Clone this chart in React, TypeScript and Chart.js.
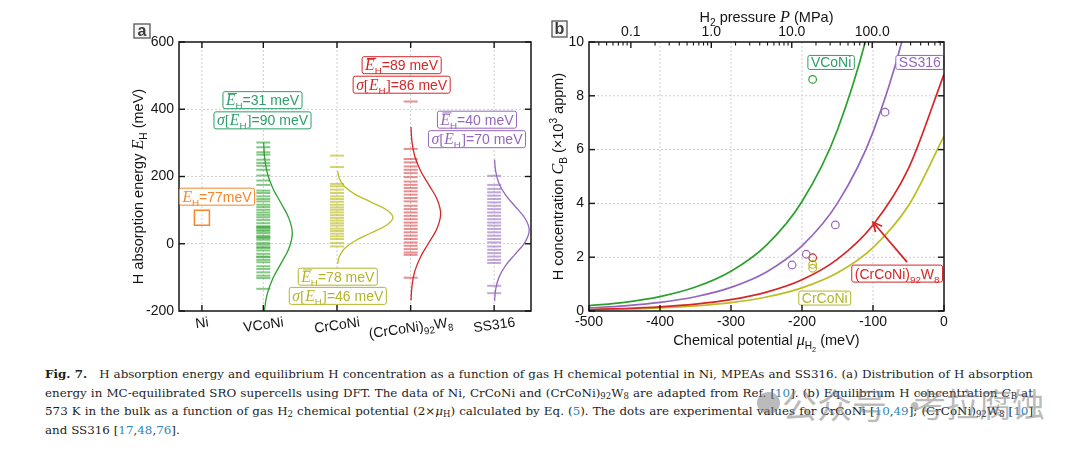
import React, { useEffect, useRef } from 'react';
import { Chart, registerables } from 'chart.js';

Chart.register(...registerables);

// ---------------- Panel (a): H absorption energy ----------------
const categories = ['Ni', 'VCoNi', 'CrCoNi', '(CrCoNi)92W8', 'SS316'];
const categoryX = [0.28, 1.03, 1.93, 2.83, 3.85];
const yTicksA = [-200, 0, 200, 400, 600];
const yGridA = [0, 200, 400];
const niEnergy = [77];
const vconiEnergies = [301, 287, 272, 265, 250, 240, 232, 220, 203, 188, 175, 158, 151, 141, 133, 126, 116, 109, 101, 93, 86, 79, 71, 61, 52, 50, 47, 42, 38, 32, 24, 20, 17, 12, 2, -3, -10, -13, -20, -30, -38, -40, -48, -55, -67, -75, -85, -95, -102, -134];
const crconiEnergies = [262, 228, 178, 171, 161, 151, 141, 133, 125, 116, 108, 101, 93, 85, 77, 69, 61, 54, 45, 38, 30, 22, 14, 2, -8];
const w8Energies = [423, 282, 252, 242, 230, 220, 210, 198, 185, 175, 166, 156, 146, 136, 126, 113, 103, 93, 83, 73, 63, 54, 44, 34, 24, 14, 4, -6, -16, -26, -33, -101];
const ss316Energies = [202, 175, 163, 153, 143, 133, 123, 113, 103, 93, 83, 73, 63, 54, 44, 34, 24, 14, 4, -8, -18, -28, -38, -48, -57, -125, -147];
const meanEnergy = [31, 78, 89, 40];
const sigmaEnergy = [90, 46, 86, 70];
// distribution curves: energy (meV) and curve width (x-axis units)
const vconiCurveE = [-239, -194, -149, -104, -59, -14, 31, 76, 121, 166, 211, 256, 301];
const vconiCurveD = [0.004, 0.016, 0.048, 0.115, 0.215, 0.312, 0.354, 0.312, 0.215, 0.115, 0.048, 0.016, 0.004];
const crconiCurveE = [-60, -37, -14, 9, 32, 55, 78, 101, 124, 147, 170, 193, 216];
const crconiCurveD = [0.008, 0.03, 0.092, 0.222, 0.415, 0.603, 0.684, 0.603, 0.415, 0.222, 0.092, 0.03, 0.008];
const w8CurveE = [-169, -126, -83, -40, 3, 46, 89, 132, 175, 218, 261, 304, 347];
const w8CurveD = [0.004, 0.016, 0.049, 0.119, 0.222, 0.323, 0.366, 0.323, 0.222, 0.119, 0.049, 0.016, 0.004];
const ss316CurveE = [-170, -135, -100, -65, -30, 5, 40, 75, 110, 145, 180, 215, 250];
const ss316CurveD = [0.005, 0.019, 0.058, 0.139, 0.26, 0.378, 0.428, 0.378, 0.26, 0.139, 0.058, 0.019, 0.005];

// ---------------- Panel (b): H concentration ----------------
const muGrid = [-500, -450, -400, -350, -300, -250, -200, -150, -100, -50, 0];
const cVCoNi = [0.195, 0.323, 0.536, 0.89, 1.48, 2.45, 4.07, 6.74, 11.19, 18.56, 30.8];
const cSS316 = [0.116, 0.192, 0.318, 0.529, 0.877, 1.45, 2.42, 4.01, 6.65, 11.03, 18.3];
const cW8 = [0.056, 0.092, 0.153, 0.254, 0.42, 0.7, 1.16, 1.93, 3.2, 5.3, 8.8];
const cCrCoNi = [0.041, 0.068, 0.113, 0.188, 0.31, 0.52, 0.86, 1.42, 2.36, 3.92, 6.5];
const vconiExpMu = [-185];
const vconiExpC = [8.61];
const ss316ExpMu = [-214, -194, -153, -83];
const ss316ExpC = [1.71, 2.11, 3.2, 7.39];
const w8ExpMu = [-185];
const w8ExpC = [1.98];
const crconiExpMu = [-185, -185];
const crconiExpC = [1.73, 1.59];
const xTicksB = [-500, -400, -300, -200, -100, 0];
const xGridB = [-400, -300, -200, -100];
const yTicksB = [0, 2, 4, 6, 8, 10];
const yGridB = [2, 4, 6, 8];
const pressureTicks = [0.1, 1, 10, 100];
const pressureLabels = ['0.1', '1.0', '10.0', '100.0'];

// ---------------- styles ----------------
const C_NI = '#f5862a';
const C_V = '#2ca02c';
const C_V_LABEL = '#2e9e6a';
const C_CR = '#bcbd22';
const C_CR_LABEL = '#b3b52a';
const C_W = '#d62728';
const C_SS = '#9467bd';
const SANS = '"Liberation Sans", Arial, sans-serif';
const SERIF = '"Liberation Serif", "Times New Roman", serif';
const CAPTION_SERIF = '"DejaVu Serif", "Liberation Serif", serif';
const INK = '#151515';

type Run = { t: string; s?: 'i' | 'r'; sub?: number; sup?: boolean; over?: boolean };

function runFont(r: Run, size: number) {
  let sz = size;
  if (r.sub === 1 || r.sup) sz = size * 0.7;
  if (r.sub === 2) sz = size * 0.5;
  if (r.s === 'i') return `italic ${sz * 1.12}px ${SERIF}`;
  if (r.s === 'r') return `${sz * 1.1}px ${SERIF}`;
  return `${sz}px ${SANS}`;
}
function runsWidth(ctx: CanvasRenderingContext2D, runs: Run[], size: number) {
  let w = 0;
  for (const r of runs) {
    ctx.font = runFont(r, size);
    w += ctx.measureText(r.t).width;
  }
  return w;
}
function drawRuns(ctx: CanvasRenderingContext2D, runs: Run[], x: number, cy: number, size: number, color: string) {
  const base = cy + size * 0.36;
  let cx = x;
  ctx.save();
  ctx.fillStyle = color;
  ctx.strokeStyle = color;
  ctx.textBaseline = 'alphabetic';
  ctx.textAlign = 'left';
  for (const r of runs) {
    ctx.font = runFont(r, size);
    let b = base;
    if (r.sub === 1) b += size * 0.28;
    if (r.sub === 2) b += size * 0.45;
    if (r.sup) b -= size * 0.42;
    ctx.fillText(r.t, cx, b);
    const w = ctx.measureText(r.t).width;
    if (r.over) {
      ctx.lineWidth = 1;
      ctx.beginPath();
      ctx.moveTo(cx + 2, b - size * 0.84);
      ctx.lineTo(cx + w + 1.5, b - size * 0.84);
      ctx.stroke();
    }
    cx += w;
  }
  ctx.restore();
  return cx - x;
}
function drawLabelBox(ctx: CanvasRenderingContext2D, runs: Run[], cx: number, cy: number, size: number, color: string, h: number) {
  const w = runsWidth(ctx, runs, size);
  const padX = 3;
  ctx.save();
  ctx.beginPath();
  if ((ctx as any).roundRect) (ctx as any).roundRect(cx - w / 2 - padX, cy - h / 2, w + 2 * padX, h, 2);
  else ctx.rect(cx - w / 2 - padX, cy - h / 2, w + 2 * padX, h);
  ctx.fillStyle = '#fff';
  ctx.fill();
  ctx.lineWidth = 1;
  ctx.strokeStyle = color;
  ctx.stroke();
  ctx.restore();
  drawRuns(ctx, runs, cx - w / 2, cy, size, color);
}
function dotted(ctx: CanvasRenderingContext2D, x1: number, y1: number, x2: number, y2: number) {
  ctx.save();
  ctx.strokeStyle = '#c4c4c4';
  ctx.lineWidth = 0.8;
  ctx.setLineDash([2, 2]);
  ctx.beginPath();
  ctx.moveTo(x1, y1);
  ctx.lineTo(x2, y2);
  ctx.stroke();
  ctx.restore();
}
function tick(ctx: CanvasRenderingContext2D, x1: number, y1: number, x2: number, y2: number) {
  ctx.beginPath();
  ctx.moveTo(x1, y1);
  ctx.lineTo(x2, y2);
  ctx.stroke();
}
function frame(ctx: CanvasRenderingContext2D, a: any) {
  ctx.save();
  ctx.strokeStyle = INK;
  ctx.lineWidth = 1.5;
  ctx.strokeRect(a.left, a.top, a.right - a.left, a.bottom - a.top);
  ctx.restore();
}
function panelLetter(ctx: CanvasRenderingContext2D, letter: string, x: number, y: number, w: number, h: number) {
  ctx.save();
  ctx.fillStyle = '#f7f7f7';
  ctx.strokeStyle = '#555';
  ctx.lineWidth = 1.3;
  ctx.fillRect(x, y, w, h);
  ctx.strokeRect(x, y, w, h);
  ctx.fillStyle = '#3a3a3a';
  ctx.font = `bold 16px ${SANS}`;
  ctx.textAlign = 'center';
  ctx.textBaseline = 'middle';
  ctx.fillText(letter, x + w / 2, y + h / 2 + 0.5);
  ctx.restore();
}
function labelRuns(label: string): Run[] {
  const parts = label.split(/(\d+)/).filter((p) => p.length);
  const runs: Run[] = [];
  parts.forEach((p, i) => {
    const prev = i > 0 ? parts[i - 1] : '';
    const isSub = /^\d+$/.test(p) && (prev.endsWith(')') || prev.endsWith('W'));
    runs.push(isSub ? { t: p, sub: 1 } : { t: p });
  });
  return runs;
}
const meanRuns = (v: number, over = true): Run[] => [{ t: 'E', s: 'i', over }, { t: 'H', sub: 1 }, { t: `=${v} meV` }];
const sigmaRuns = (v: number): Run[] => [{ t: 'σ', s: 'i' }, { t: '[', s: 'r' }, { t: 'E', s: 'i' }, { t: 'H', sub: 1 }, { t: ']', s: 'r' }, { t: `=${v} meV` }];

// label anchors (data coordinates of panel a)
const labelsA = [
  { x: 0.464, y: 140, color: C_NI, runs: [{ t: 'E', s: 'i' }, { t: 'H', sub: 1 }, { t: `=${niEnergy[0]}meV` }] as Run[] },
  { x: 1.02, y: 427, color: C_V_LABEL, runs: meanRuns(meanEnergy[0]) },
  { x: 1.02, y: 367, color: C_V_LABEL, runs: sigmaRuns(sigmaEnergy[0]) },
  { x: 1.94, y: -98, color: C_CR_LABEL, runs: meanRuns(meanEnergy[1]) },
  { x: 1.94, y: -155, color: C_CR_LABEL, runs: sigmaRuns(sigmaEnergy[1]) },
  { x: 2.72, y: 531, color: C_W, runs: meanRuns(meanEnergy[2]) },
  { x: 2.72, y: 473, color: C_W, runs: sigmaRuns(sigmaEnergy[2]) },
  { x: 3.64, y: 369, color: C_SS, runs: meanRuns(meanEnergy[3]) },
  { x: 3.64, y: 311, color: C_SS, runs: sigmaRuns(sigmaEnergy[3]) },
];
const labelsB = [
  { x: -159, y: 9.24, color: C_V_LABEL, runs: [{ t: 'VCoNi' }] as Run[], h: 14 },
  { x: -34, y: 9.24, color: C_SS, runs: [{ t: 'SS316' }] as Run[], h: 14 },
  { x: -66, y: 1.39, color: C_W, runs: labelRuns(categories[3]), h: 17 },
  { x: -168, y: 0.48, color: C_CR_LABEL, runs: [{ t: 'CrCoNi' }] as Run[], h: 14 },
];

const panelAPlugin = {
  id: 'panelA',
  beforeDatasetsDraw(chart: any) {
    const { ctx, chartArea: a, scales } = chart;
    const x = scales.x, y = scales.y;
    for (const p of categoryX) dotted(ctx, x.getPixelForValue(p), a.top, x.getPixelForValue(p), a.bottom);
    for (const v of yGridA) dotted(ctx, a.left, y.getPixelForValue(v), a.right, y.getPixelForValue(v));
  },
  afterDatasetsDraw(chart: any) {
    const { ctx, chartArea: a, scales } = chart;
    const x = scales.x, y = scales.y;
    frame(ctx, a);
    ctx.save();
    ctx.strokeStyle = INK;
    ctx.lineWidth = 1.4;
    for (const p of categoryX) {
      const px = x.getPixelForValue(p);
      tick(ctx, px, a.bottom, px, a.bottom - 6);
      tick(ctx, px, a.top, px, a.top + 6);
    }
    for (const v of yTicksA) {
      const py = y.getPixelForValue(v);
      tick(ctx, a.left, py, a.left + 6, py);
      tick(ctx, a.right, py, a.right - 6, py);
    }
    ctx.restore();
    for (const l of labelsA) drawLabelBox(ctx, l.runs, x.getPixelForValue(l.x), y.getPixelForValue(l.y), 14, l.color, 17);
    // rotated category labels
    const th = (8 * Math.PI) / 180;
    categories.forEach((c, i) => {
      const runs = labelRuns(c);
      const w = runsWidth(ctx, runs, 14);
      const cx = x.getPixelForValue(categoryX[i]);
      const cy = a.bottom + 4 + (w * Math.sin(th) + 13 * Math.cos(th)) / 2;
      ctx.save();
      ctx.translate(cx, cy);
      ctx.rotate(-th);
      drawRuns(ctx, runs, -w / 2, 0, 14, INK);
      ctx.restore();
    });
    // y title
    const yt: Run[] = [{ t: 'H absorption energy ' }, { t: 'E', s: 'i' }, { t: 'H', sub: 1 }, { t: ' (meV)' }];
    const wt = runsWidth(ctx, yt, 14.5);
    ctx.save();
    ctx.translate(a.left - 41, (a.top + a.bottom) / 2 + 10);
    ctx.rotate(-Math.PI / 2);
    drawRuns(ctx, yt, -wt / 2, 0, 14.5, INK);
    ctx.restore();
    panelLetter(ctx, 'a', a.left - 45, 24, 16, 14);
  },
};

const minorP: number[] = [];
for (let e = -2; e <= 2; e++) for (let d = 2; d <= 9; d++) {
  const v = d * Math.pow(10, e);
  if (v > 0.0305 && v < 780) minorP.push(v);
}

const panelBPlugin = {
  id: 'panelB',
  beforeDatasetsDraw(chart: any) {
    const { ctx, chartArea: a, scales } = chart;
    const x = scales.x, y = scales.y;
    for (const v of xGridB) dotted(ctx, x.getPixelForValue(v), a.top, x.getPixelForValue(v), a.bottom);
    for (const v of yGridB) dotted(ctx, a.left, y.getPixelForValue(v), a.right, y.getPixelForValue(v));
  },
  afterDatasetsDraw(chart: any) {
    const { ctx, chartArea: a, scales } = chart;
    const x = scales.x, y = scales.y, xt = scales.xTop;
    for (const l of labelsB) drawLabelBox(ctx, l.runs, x.getPixelForValue(l.x), y.getPixelForValue(l.y), 14, l.color, l.h);
    // arrow
    const x1 = x.getPixelForValue(-52), y1 = y.getPixelForValue(1.82);
    const x2 = x.getPixelForValue(-100), y2 = y.getPixelForValue(3.3);
    const ang = Math.atan2(y2 - y1, x2 - x1);
    ctx.save();
    ctx.strokeStyle = C_W;
    ctx.lineWidth = 1.8;
    tick(ctx, x1, y1, x2, y2);
    ctx.beginPath();
    ctx.moveTo(x2 - 10 * Math.cos(ang - 0.45), y2 - 10 * Math.sin(ang - 0.45));
    ctx.lineTo(x2, y2);
    ctx.lineTo(x2 - 10 * Math.cos(ang + 0.45), y2 - 10 * Math.sin(ang + 0.45));
    ctx.stroke();
    ctx.restore();
    frame(ctx, a);
    ctx.save();
    ctx.strokeStyle = INK;
    ctx.lineWidth = 1.4;
    for (const v of xTicksB) {
      const px = x.getPixelForValue(v);
      tick(ctx, px, a.bottom, px, a.bottom - 6);
    }
    for (const v of pressureTicks) {
      const px = xt.getPixelForValue(v);
      tick(ctx, px, a.top, px, a.top + 6);
    }
    ctx.lineWidth = 1.1;
    for (const v of minorP) {
      const px = xt.getPixelForValue(v);
      tick(ctx, px, a.top, px, a.top + 3.5);
    }
    ctx.lineWidth = 1.4;
    for (const v of yTicksB) {
      const py = y.getPixelForValue(v);
      tick(ctx, a.left, py, a.left + 6, py);
      tick(ctx, a.right, py, a.right - 6, py);
    }
    ctx.restore();
    // titles
    const xTitle: Run[] = [{ t: 'Chemical potential ' }, { t: 'μ', s: 'i' }, { t: 'H', sub: 1 }, { t: '2', sub: 2 }, { t: ' (meV)' }];
    const wx = runsWidth(ctx, xTitle, 14.5);
    drawRuns(ctx, xTitle, (a.left + a.right) / 2 - wx / 2, a.bottom + 29, 14.5, INK);
    const topTitle: Run[] = [{ t: 'H' }, { t: '2', sub: 1 }, { t: ' pressure ' }, { t: 'P', s: 'i' }, { t: ' (MPa)' }];
    const wtt = runsWidth(ctx, topTitle, 14.5);
    drawRuns(ctx, topTitle, (a.left + a.right) / 2 - wtt / 2, a.top - 25, 14.5, INK);
    const yTitle: Run[] = [{ t: 'H concentration ' }, { t: 'C', s: 'i' }, { t: 'B', sub: 1 }, { t: ' (×10' }, { t: '3', sup: true }, { t: ' appm)' }];
    const wy = runsWidth(ctx, yTitle, 14.5);
    ctx.save();
    ctx.translate(a.left - 31, (a.top + a.bottom) / 2);
    ctx.rotate(-Math.PI / 2);
    drawRuns(ctx, yTitle, -wy / 2, 0, 14.5, INK);
    ctx.restore();
    panelLetter(ctx, 'b', a.left - 37, 21, 15, 16);
  },
};

const tickFont = { family: SANS, size: 14 };

function rug(vals: number[], xi: number, color: string) {
  return {
    data: vals.map((v) => ({ x: categoryX[xi], y: v })),
    showLine: false,
    pointStyle: 'line',
    pointRadius: 7,
    pointBorderWidth: 2,
    pointBorderColor: color,
    borderColor: color,
    backgroundColor: color,
  };
}
function distCurve(E: number[], D: number[], xi: number, color: string) {
  return {
    data: E.map((e, j) => ({ x: categoryX[xi] + D[j], y: e })),
    showLine: true,
    pointRadius: 0,
    borderColor: color,
    borderWidth: 1.3,
    tension: 0.4,
    fill: false,
  };
}
function concCurve(vals: number[], color: string) {
  return {
    data: muGrid.map((m, i) => ({ x: m, y: vals[i] })),
    showLine: true,
    pointRadius: 0,
    borderColor: color,
    borderWidth: 1.7,
    cubicInterpolationMode: 'monotone',
    fill: false,
  };
}
function expPoints(mus: number[], cs: number[], color: string) {
  return {
    data: mus.map((m, i) => ({ x: m, y: cs[i] })),
    showLine: false,
    pointStyle: 'circle',
    pointRadius: 3.8,
    pointBorderWidth: 1.2,
    pointBorderColor: color,
    pointBackgroundColor: 'rgba(0,0,0,0)',
    borderColor: color,
    backgroundColor: 'rgba(0,0,0,0)',
  };
}

export default function App() {
  const refA = useRef<HTMLCanvasElement>(null);
  const refB = useRef<HTMLCanvasElement>(null);

  useEffect(() => {
    const chartA = new Chart(refA.current as HTMLCanvasElement, {
      type: 'scatter',
      data: {
        datasets: [
          rug(vconiEnergies, 1, 'rgba(44,160,44,0.58)'),
          rug(crconiEnergies, 2, 'rgba(188,189,34,0.65)'),
          rug(w8Energies, 3, 'rgba(214,39,40,0.52)'),
          rug(ss316Energies, 4, 'rgba(148,103,189,0.58)'),
          distCurve(vconiCurveE, vconiCurveD, 1, C_V),
          distCurve(crconiCurveE, crconiCurveD, 2, C_CR),
          distCurve(w8CurveE, w8CurveD, 3, C_W),
          distCurve(ss316CurveE, ss316CurveD, 4, C_SS),
          {
            data: niEnergy.map((v) => ({ x: categoryX[0], y: v })),
            showLine: false,
            pointStyle: 'rect',
            pointRadius: 10.6,
            pointBorderWidth: 1.5,
            pointBorderColor: C_NI,
            pointBackgroundColor: 'rgba(0,0,0,0)',
          },
        ] as any,
      },
      options: {
        responsive: false,
        animation: false,
        events: [],
        layout: { padding: { left: 0, right: 19, top: 42, bottom: 0 }, autoPadding: false },
        plugins: { legend: { display: false }, tooltip: { enabled: false } },
        scales: {
          x: {
            type: 'linear',
            min: 0,
            max: 4.3,
            grid: { display: false, drawTicks: false },
            border: { display: false },
            ticks: { display: false },
            afterFit: (s: any) => { s.height = 39; },
          },
          y: {
            type: 'linear',
            min: -200,
            max: 600,
            grid: { display: false, drawTicks: false },
            border: { display: false },
            ticks: { stepSize: 200, font: tickFont, color: INK, padding: 5 },
            afterFit: (s: any) => { s.width = 79; },
          },
        },
      } as any,
      plugins: [panelAPlugin],
    });

    const chartB = new Chart(refB.current as HTMLCanvasElement, {
      type: 'scatter',
      data: {
        datasets: [
          concCurve(cVCoNi, C_V),
          concCurve(cSS316, C_SS),
          concCurve(cW8, C_W),
          concCurve(cCrCoNi, C_CR),
          expPoints(vconiExpMu, vconiExpC, C_V),
          expPoints(ss316ExpMu, ss316ExpC, C_SS),
          expPoints(crconiExpMu, crconiExpC, C_CR),
          expPoints(w8ExpMu, w8ExpC, C_W),
        ] as any,
      },
      options: {
        responsive: false,
        animation: false,
        events: [],
        layout: { padding: { left: 0, right: 16, top: 0, bottom: 0 }, autoPadding: false },
        plugins: { legend: { display: false }, tooltip: { enabled: false } },
        scales: {
          x: {
            type: 'linear',
            position: 'bottom',
            min: -500,
            max: 0,
            grid: { display: false, drawTicks: false },
            border: { display: false },
            ticks: { stepSize: 100, font: tickFont, color: INK, padding: 3, maxRotation: 0, autoSkip: false },
            afterFit: (s: any) => { s.height = 42; },
          },
          xTop: {
            type: 'logarithmic',
            position: 'top',
            min: 0.0302,
            max: 780,
            grid: { display: false, drawTicks: false },
            border: { display: false },
            afterBuildTicks: (s: any) => { s.ticks = pressureTicks.map((v) => ({ value: v })); },
            ticks: {
              font: tickFont,
              color: INK,
              padding: 1,
              maxRotation: 0,
              autoSkip: false,
              callback: (v: any) => {
                const i = pressureTicks.findIndex((p) => Math.abs(p - v) / p < 1e-6);
                return i >= 0 ? pressureLabels[i] : '';
              },
            },
            afterFit: (s: any) => { s.height = 42; },
          },
          y: {
            type: 'linear',
            min: 0,
            max: 10,
            grid: { display: false, drawTicks: false },
            border: { display: false },
            ticks: { stepSize: 2, font: tickFont, color: INK, padding: 5 },
            afterFit: (s: any) => { s.width = 49; },
          },
        },
      } as any,
      plugins: [panelBPlugin],
    });

    return () => {
      chartA.destroy();
      chartB.destroy();
    };
  }, []);

  const cap: React.CSSProperties = {
    position: 'absolute',
    left: 45,
    width: 988,
    fontFamily: CAPTION_SERIF,
    fontSize: 11.9,
    lineHeight: '18px',
    whiteSpace: 'nowrap',
    textAlign: 'justify',
    textAlignLast: 'justify' as any,
    color: '#1e1e1e',
  };
  const blue: React.CSSProperties = { color: '#2f86b8' };
  const sub: React.CSSProperties = { fontSize: '0.72em', verticalAlign: '-0.28em', lineHeight: 0 };
  const wm = 'rgba(120,120,120,0.5)';

  return (
    <div style={{ position: 'absolute', left: 0, top: 0, width: 1080, height: 453, background: '#fff', overflow: 'hidden' }}>
      <div style={{ position: 'absolute', left: 100, top: 0, width: 450, height: 350 }}>
        <canvas ref={refA} width={450} height={350} style={{ width: 450, height: 350, display: 'block' }} />
      </div>
      <div style={{ position: 'absolute', left: 540, top: 0, width: 420, height: 353 }}>
        <canvas ref={refB} width={420} height={353} style={{ width: 420, height: 353, display: 'block' }} />
      </div>
      <div style={{ ...cap, top: 365 }}>
        <b>Fig. 7.</b>&emsp;H absorption energy and equilibrium H concentration as a function of gas H chemical potential in Ni, MPEAs and SS316. (a) Distribution of H absorption
      </div>
      <div style={{ ...cap, top: 383.5 }}>
        energy in MC-equilibrated SRO supercells using DFT. The data of Ni, CrCoNi and (CrCoNi)<span style={sub}>92</span>W<span style={sub}>8</span> are adapted from Ref. [<span style={blue}>10</span>]. (b) Equilibrium H concentration <i>C</i><span style={sub}>B</span> at
      </div>
      <div style={{ ...cap, top: 402 }}>
        573 K in the bulk as a function of gas H<span style={sub}>2</span> chemical potential (2×<i>μ</i><span style={sub}>H</span>) calculated by Eq. (<span style={blue}>5</span>). The dots are experimental values for CrCoNi [<span style={blue}>10</span>,<span style={blue}>49</span>]; (CrCoNi)<span style={sub}>92</span>W<span style={sub}>8</span> [<span style={blue}>10</span>]
      </div>
      <div style={{ ...cap, top: 420.5, textAlign: 'left', textAlignLast: 'left' as any, width: 'auto' }}>
        and SS316 [<span style={blue}>17</span>,<span style={blue}>48</span>,<span style={blue}>76</span>].
      </div>
      <div style={{ position: 'absolute', left: 757, top: 392, width: 23, height: 22, borderRadius: '50%', background: wm }} />
      <div style={{ position: 'absolute', left: 782, top: 386, fontFamily: '"Noto Sans CJK SC", sans-serif', fontSize: 35, lineHeight: '35px', color: wm, whiteSpace: 'nowrap' }}>公众号</div>
      <div style={{ position: 'absolute', left: 897, top: 386, fontFamily: '"Noto Sans CJK SC", sans-serif', fontSize: 35, lineHeight: '35px', color: wm, whiteSpace: 'nowrap' }}>·</div>
      <div style={{ position: 'absolute', left: 913, top: 387, fontFamily: '"Noto Sans CJK SC", sans-serif', fontSize: 33, lineHeight: '33px', color: wm, whiteSpace: 'nowrap' }}>考拉腐蚀</div>
    </div>
  );
}
